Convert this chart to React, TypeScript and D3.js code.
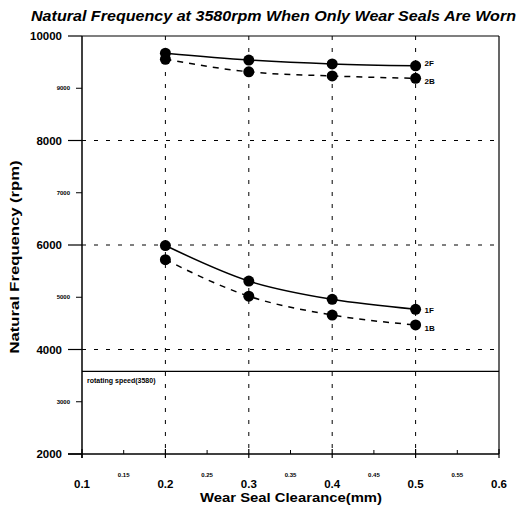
import React from "react";
import * as d3 from "d3";

const clearance = [0.2, 0.3, 0.4, 0.5];
const f2 = [9670, 9540, 9465, 9430];
const b2 = [9555, 9315, 9235, 9190];
const f1 = [5990, 5310, 4960, 4770];
const b1 = [5720, 5020, 4660, 4470];
const seriesNames = ["2F", "2B", "1F", "1B"];
const xMajor = [0.1, 0.2, 0.3, 0.4, 0.5, 0.6];
const xMinor = [0.15, 0.25, 0.35, 0.45, 0.55];
const yMajor = [2000, 4000, 6000, 8000, 10000];
const yMinor = [3000, 5000, 7000, 9000];
const yGrid = [4000, 6000, 8000];
const xGrid = [0.2, 0.3, 0.4, 0.5];
const rotatingSpeed = 3580;

export default function App() {
  const W = 519, H = 510;
  const x = d3.scaleLinear().domain([0.1, 0.6]).range([82, 499]);
  const y = d3.scaleLinear().domain([2000, 10000]).range([454, 36]);
  const line = d3
    .line<number>()
    .x((_, i) => x(clearance[i]))
    .y((d) => y(d))
    .curve(d3.curveMonotoneX);
  const series = [
    { name: seriesNames[0], vals: f2, dash: "", dy: -2 },
    { name: seriesNames[1], vals: b2, dash: "6,6", dy: 4 },
    { name: seriesNames[2], vals: f1, dash: "", dy: 2 },
    { name: seriesNames[3], vals: b1, dash: "6,6", dy: 4 },
  ];
  const font = "Liberation Sans, Arial, sans-serif";
  const [x0, x1] = x.range();
  const [yb, yt] = y.range();
  return (
    <svg width={W} height={H} style={{ position: "absolute", left: 0, top: 0, background: "#fff" }} fontFamily={font}>
      <text x={31} y={21} fontSize={14} fontWeight="bold" fontStyle="italic" textLength={485} lengthAdjust="spacingAndGlyphs">
        Natural Frequency at 3580rpm When Only Wear Seals Are Worn
      </text>
      {/* grid */}
      {xGrid.map((v) => (
        <line key={"xg" + v} x1={x(v)} x2={x(v)} y1={yt} y2={yb} stroke="#000" strokeWidth={1} strokeDasharray="4,8" />
      ))}
      {yGrid.map((v) => (
        <line key={"yg" + v} x1={x0} x2={x1} y1={y(v)} y2={y(v)} stroke="#000" strokeWidth={1} strokeDasharray="4,8" />
      ))}
      {/* frame */}
      <line x1={x0} x2={x1} y1={yt} y2={yt} stroke="#000" strokeWidth={1.2} />
      <line x1={x1} x2={x1} y1={yt} y2={yb} stroke="#000" strokeWidth={1.2} />
      <line x1={x0} x2={x0} y1={yt} y2={yb + 4} stroke="#000" strokeWidth={1.5} />
      <line x1={x0 - 14} x2={x1} y1={yb} y2={yb} stroke="#000" strokeWidth={1.5} />
      {/* rotating speed */}
      <line x1={x0} x2={x1} y1={y(rotatingSpeed)} y2={y(rotatingSpeed)} stroke="#000" strokeWidth={1.2} />
      <text x={x0 + 5} y={y(rotatingSpeed) + 12} fontSize={7} fontWeight="bold">
        rotating speed(3580)
      </text>
      {/* y ticks */}
      {yMajor.map((v) => (
        <g key={"ym" + v}>
          <line x1={x0 - 14} x2={x0} y1={y(v)} y2={y(v)} stroke="#000" strokeWidth={1.2} />
          <text x={x0 - 20} y={y(v) + 4} textAnchor="end" fontSize={11.5} fontWeight="bold">
            {v}
          </text>
        </g>
      ))}
      {yMinor.map((v) => (
        <g key={"yn" + v}>
          <line x1={x0 - 6} x2={x0} y1={y(v)} y2={y(v)} stroke="#000" strokeWidth={1} />
          <text x={x0 - 12} y={y(v) + 2} textAnchor="end" fontSize={6} fontWeight="bold">
            {v}
          </text>
        </g>
      ))}
      {/* x ticks */}
      {xMajor.map((v) => (
        <g key={"xm" + v}>
          <line x1={x(v)} x2={x(v)} y1={yb - 5} y2={yb + 4} stroke="#000" strokeWidth={1.2} />
          <text x={x(v)} y={yb + 34} textAnchor="middle" fontSize={11.5} fontWeight="bold">
            {v}
          </text>
        </g>
      ))}
      {xMinor.map((v) => (
        <g key={"xn" + v}>
          <line x1={x(v)} x2={x(v)} y1={yb - 4} y2={yb} stroke="#000" strokeWidth={1} />
          <text x={x(v)} y={yb + 23} textAnchor="middle" fontSize={6} fontWeight="bold">
            {v}
          </text>
        </g>
      ))}
      {/* axis titles */}
      <text x={291} y={502} textAnchor="middle" fontSize={13} fontWeight="bold" textLength={182} lengthAdjust="spacingAndGlyphs">
        Wear Seal Clearance(mm)
      </text>
      <text transform={`translate(19,257) rotate(-90)`} textAnchor="middle" fontSize={13} fontWeight="bold" textLength={193} lengthAdjust="spacingAndGlyphs">
        Natural Frequency (rpm)
      </text>
      {/* series */}
      {series.map((s) => (
        <g key={s.name}>
          <path d={line(s.vals) || ""} fill="none" stroke="#000" strokeWidth={1.5} strokeDasharray={s.dash} />
          {s.vals.map((v, i) => (
            <circle key={i} cx={x(clearance[i])} cy={y(v)} r={5.5} fill="#000" />
          ))}
          <text x={x(clearance[3]) + 9} y={y(s.vals[3]) + s.dy} fontSize={8} fontWeight="bold" dominantBaseline="middle">
            {s.name}
          </text>
        </g>
      ))}
    </svg>
  );
}
